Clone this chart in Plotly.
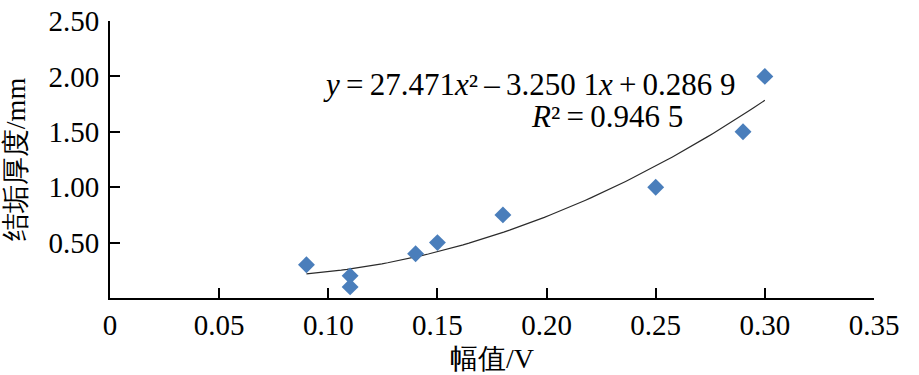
import numpy as np
import plotly.graph_objects as go

# Data
amplitude_v = [0.09, 0.11, 0.11, 0.14, 0.15, 0.18, 0.25, 0.29, 0.30]
scale_mm = [0.30, 0.20, 0.10, 0.40, 0.50, 0.75, 1.00, 1.50, 2.00]

# Quadratic trendline coefficients shown on the chart (a, b, c)
trend_coef = [27.471, -3.2501, 0.2869]
trend_range = [0.09, 0.30]

x_tickvals = [0, 0.05, 0.10, 0.15, 0.20, 0.25, 0.30, 0.35]
x_ticktext = ["0", "0.05", "0.10", "0.15", "0.20", "0.25", "0.30", "0.35"]
y_tickvals = [0.5, 1.0, 1.5, 2.0, 2.5]
y_ticktext = ["0.50", "1.00", "1.50", "2.00", "2.50"]

SERIF = "Liberation Serif"
FS_TICK = 29
FS_TITLE = 28
FS_EQ = 31

tx = np.linspace(trend_range[0], trend_range[1], 80)
ty = np.polyval(trend_coef, tx)

fig = go.Figure()
fig.add_trace(go.Scatter(
    x=tx, y=ty, mode="lines",
    line=dict(color="#2b2b2b", width=1.2),
    hoverinfo="skip", showlegend=False,
))
fig.add_trace(go.Scatter(
    x=amplitude_v, y=scale_mm, mode="markers",
    marker=dict(symbol="diamond", size=13, color="#4A7EBB",
                line=dict(width=0)),
    showlegend=False,
))

ts = "\u2009"
fig.add_annotation(
    x=0.192, y=1.93, xref="x", yref="y", showarrow=False,
    text=f"<i>y</i>{ts}={ts}27.471<i>x</i>²{ts}–{ts}3.250 1<i>x</i>{ts}+{ts}0.286 9",
    font=dict(family=SERIF, size=FS_EQ, color="black"),
)
fig.add_annotation(
    x=0.2276, y=1.64, xref="x", yref="y", showarrow=False,
    text=f"<i>R</i>²{ts}={ts}0.946 5",
    font=dict(family=SERIF, size=FS_EQ, color="black"),
)

fig.update_layout(
    width=919, height=375, autosize=False,
    margin=dict(l=110, r=45, t=21, b=77, pad=0),
    paper_bgcolor="white", plot_bgcolor="white",
    font=dict(family=SERIF, size=FS_TICK, color="black"),
    xaxis=dict(
        range=[0, 0.35], tickvals=x_tickvals, ticktext=x_ticktext,
        ticks="inside", ticklen=10, tickwidth=1.5, tickcolor="black",
        showline=True, linewidth=2, linecolor="black",
        showgrid=False, zeroline=False, automargin=False,
        ticklabeloverflow="allow",
        tickfont=dict(family=SERIF, size=FS_TICK),
        title=dict(text="幅值/V", font=dict(family=SERIF, size=FS_TITLE), standoff=9),
    ),
    yaxis=dict(
        range=[0, 2.5], tickvals=y_tickvals, ticktext=y_ticktext,
        ticks="inside", ticklen=10, tickwidth=1.5, tickcolor="black",
        showline=True, linewidth=2, linecolor="black",
        showgrid=False, zeroline=False, automargin=False,
        ticklabelstandoff=3, ticklabeloverflow="allow",
        tickfont=dict(family=SERIF, size=FS_TICK),
        title=dict(text="结垢厚度/mm", font=dict(family=SERIF, size=FS_TITLE), standoff=22),
    ),
)

fig.write_html(
    "out.html",
    config={"displayModeBar": False},
    post_script="document.body.style.margin='0';document.body.style.padding='0';",
)
